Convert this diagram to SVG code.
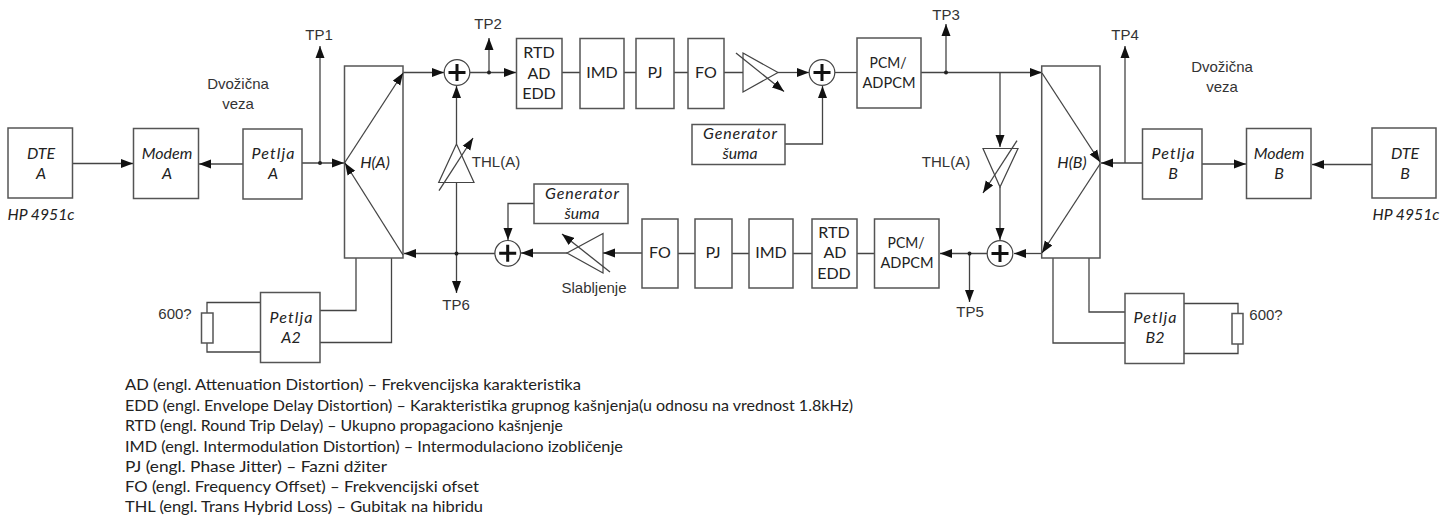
<svg xmlns="http://www.w3.org/2000/svg" width="1454" height="517" viewBox="0 0 1454 517">
<style>
text{font-family:"Liberation Sans",Arial,sans-serif;fill:#333;font-size:15px;text-anchor:middle}
.h{font-family:"Lato","Noto Sans",sans-serif;font-style:italic;font-size:16px;fill:#222}
.u{font-family:"Lato","Noto Sans",sans-serif;font-size:16px;fill:#222}
.l{font-family:"Lato","Noto Sans",sans-serif;font-size:16px;fill:#222;text-anchor:start}
.b{fill:#fff;stroke:#555;stroke-width:1.5}
.c{fill:none;stroke:#444;stroke-width:1.3}
.a{marker-end:url(#arr)}
.d{fill:#222;stroke:none}
.s{fill:#fff;stroke:#444;stroke-width:1.2}
.p{fill:none;stroke:#111;stroke-width:3}
.t{fill:none;stroke:#444;stroke-width:1.2}
</style>
<defs>
<marker id="arr" markerUnits="userSpaceOnUse" markerWidth="13" markerHeight="10" refX="12" refY="5" orient="auto"><path d="M0,0.5L12,5L0,9.5z" fill="#111"/></marker>
<g id="sum"><circle r="12.8" class="s"/><path d="M-8.5,0H8.5M0,-8.5V8.5" class="p"/></g>
</defs>
<rect width="1454" height="517" fill="#fff"/>
<g id="connectors">
<path class="c a" d="M72.5,163.5H133"/>
<path class="c a" d="M243,164H199"/>
<path class="c a" d="M302,163H344"/>
<path class="c a" d="M320,163V46"/>
<path class="c a" d="M403,72.5H444"/>
<path class="c a" d="M470,72.5H516"/>
<path class="c a" d="M489,72.5V38"/>
<path class="c a" d="M456.5,144V86"/>
<path class="c" d="M456.5,182V253.5"/>
<path class="c a" d="M495,253.5H404"/>
<path class="c a" d="M456.5,253.5V293"/>
<path class="c" d="M562,72.5H580M624,72.5H636M674,72.5H688M724,72.5H743"/>
<path class="c a" d="M778,72.5H809"/>
<path class="c" d="M835,72.5H857"/>
<path class="c a" d="M785,144H822.5V86"/>
<path class="c a" d="M921,72.5H1042"/>
<path class="c a" d="M946,72.5V24"/>
<path class="c a" d="M1000,72.5V147"/>
<path class="c a" d="M1000,187V240"/>
<path class="c a" d="M1042,253.5H1014"/>
<path class="c a" d="M987,253.5H940"/>
<path class="c a" d="M969.5,253.5V302"/>
<path class="c" d="M874,253.5H857M812,253.5H793M749,253.5H732M695,253.5H678"/>
<path class="c a" d="M642,253H603"/>
<path class="c a" d="M567,253H521"/>
<path class="c a" d="M534,203.5H508V240"/>
<path class="c a" d="M1142,163H1101"/>
<path class="c a" d="M1125,163V46"/>
<path class="c a" d="M1202,164H1246"/>
<path class="c a" d="M1372,164.5H1312"/>
<path class="c" d="M320,310.5H356V258M320,342.5H391.5V258M260,302.5H207V313M207,343V352H260"/>
<path class="c" d="M1125,312H1089V258M1125,343H1053V258M1184,303.5H1238V313.5M1238,344V353.5H1184"/>
<circle class="d" cx="320" cy="163" r="2"/><circle class="d" cx="489" cy="72.5" r="2"/><circle class="d" cx="456.5" cy="253.5" r="2"/><circle class="d" cx="946" cy="72.5" r="2"/><circle class="d" cx="969.5" cy="253.5" r="2"/>
</g>
<g id="dte-a"><rect class="b" x="8" y="128" width="64.5" height="70"/><text class="h" x="41" y="159">DTE</text><text class="h" x="41" y="179">A</text><text class="h" x="41" y="220" textLength="67" lengthAdjust="spacingAndGlyphs">HP 4951c</text></g>
<g id="modem-a"><rect class="b" x="133.5" y="128.5" width="65" height="70"/><text class="h" x="167" y="159">Modem</text><text class="h" x="167" y="179">A</text></g>
<g id="petlja-a"><rect class="b" x="243" y="129" width="59" height="70"/><text class="h" x="273" y="159" textLength="43">Petlja</text><text class="h" x="273" y="179">A</text></g>
<g id="dvozicna-a"><text x="238" y="89">Dvožična</text><text x="238" y="109">veza</text></g>
<g id="tp1"><text x="319" y="40">TP1</text></g>
<g id="tp2"><text x="488" y="29">TP2</text></g>
<g id="tp3"><text x="946" y="20">TP3</text></g>
<g id="tp4"><text x="1125" y="40">TP4</text></g>
<g id="tp5"><text x="970" y="317">TP5</text></g>
<g id="tp6"><text x="456" y="310">TP6</text></g>
<g id="hybrid-a"><rect class="b" x="344.500" y="66" width="58.500" height="192"/><path class="c a" d="M344.500,163L403,73"/><path class="c a" d="M403,255L345,163"/><text class="h" x="375" y="168">H(A)</text></g>
<g id="sum1"><use href="#sum" x="457" y="72.500"/></g>
<g id="thl-a1"><path class="t" d="M456.500,144L474,182.500H438.700z"/><path class="c a" d="M439,190.700L473,138"/><text x="496" y="167">THL(A)</text></g>
<g id="rtd-1"><rect class="b" x="516.500" y="38.500" width="45.500" height="70"/><text class="u" x="539" y="58">RTD</text><text class="u" x="539" y="79">AD</text><text class="u" x="539" y="99">EDD</text></g>
<g id="imd-1"><rect class="b" x="580" y="38.500" width="44" height="70"/><text class="u" x="602" y="78">IMD</text></g>
<g id="pj-1"><rect class="b" x="636" y="38.500" width="38" height="70"/><text class="u" x="655" y="78">PJ</text></g>
<g id="fo-1"><rect class="b" x="688" y="38.500" width="36" height="70"/><text class="u" x="706" y="78">FO</text></g>
<g id="amp-1"><path class="t" d="M743,53V92L778,72.500z"/><path class="c a" d="M736,53L784,91.500"/></g>
<g id="sum3"><use href="#sum" x="822" y="72.500"/></g>
<g id="pcm-1"><rect class="b" x="857" y="38" width="64" height="70"/><text class="u" x="888" y="68" textLength="37" lengthAdjust="spacingAndGlyphs">PCM/</text><text class="u" x="889" y="88" textLength="53" lengthAdjust="spacingAndGlyphs">ADPCM</text></g>
<g id="gen-1"><rect class="b" x="692" y="124.500" width="93" height="40"/><text class="h" x="740" y="139" textLength="74">Generator</text><text class="h" x="740" y="159" textLength="35" lengthAdjust="spacingAndGlyphs">šuma</text></g>
<g id="thl-a2"><path class="t" d="M983,148.500H1018L1000,187z"/><path class="c a" d="M1017,140.700L983,193"/><text x="946" y="167">THL(A)</text></g>
<g id="sum4"><use href="#sum" x="1000" y="253.500"/></g>
<g id="hybrid-b"><rect class="b" x="1041.700" y="66" width="58.300" height="192"/><path class="c a" d="M1042,73L1100,162"/><path class="c a" d="M1100,164L1042,253"/><text class="h" x="1072" y="168">H(B)</text></g>
<g id="petlja-b"><rect class="b" x="1142.500" y="129" width="59.500" height="70"/><text class="h" x="1173" y="159" textLength="43">Petlja</text><text class="h" x="1173" y="179">B</text></g>
<g id="modem-b"><rect class="b" x="1246.500" y="128.500" width="64.500" height="70"/><text class="h" x="1279" y="159">Modem</text><text class="h" x="1279" y="179">B</text></g>
<g id="dte-b"><rect class="b" x="1372" y="128" width="64" height="70"/><text class="h" x="1405" y="159">DTE</text><text class="h" x="1405" y="179">B</text><text class="h" x="1406" y="220" textLength="67" lengthAdjust="spacingAndGlyphs">HP 4951c</text></g>
<g id="dvozicna-b"><text x="1222" y="72">Dvožična</text><text x="1222" y="92">veza</text></g>
<g id="pcm-2"><rect class="b" x="874.500" y="219" width="64.500" height="69"/><text class="u" x="906" y="248" textLength="37" lengthAdjust="spacingAndGlyphs">PCM/</text><text class="u" x="907" y="268" textLength="53" lengthAdjust="spacingAndGlyphs">ADPCM</text></g>
<g id="rtd-2"><rect class="b" x="812" y="219" width="45" height="69"/><text class="u" x="834" y="238">RTD</text><text class="u" x="835" y="258">AD</text><text class="u" x="834" y="279">EDD</text></g>
<g id="imd-2"><rect class="b" x="749" y="219" width="44" height="69"/><text class="u" x="771" y="258">IMD</text></g>
<g id="pj-2"><rect class="b" x="695" y="219" width="37" height="69"/><text class="u" x="713" y="258">PJ</text></g>
<g id="fo-2"><rect class="b" x="642" y="219" width="36" height="69"/><text class="u" x="660" y="258">FO</text></g>
<g id="amp-2"><path class="t" d="M603,233.500V273L567,253z"/><path class="c a" d="M610,272L562,234"/><text x="594" y="293">Slabljenje</text></g>
<g id="gen-2"><rect class="b" x="534" y="184" width="94" height="39.500"/><text class="h" x="582" y="199" textLength="74">Generator</text><text class="h" x="582" y="219" textLength="35" lengthAdjust="spacingAndGlyphs">šuma</text></g>
<g id="sum2"><use href="#sum" x="507.700" y="253.300"/></g>
<g id="petlja-a2"><rect class="b" x="260.500" y="292.500" width="59.500" height="70"/><text class="h" x="291" y="323" textLength="43">Petlja</text><text class="h" x="291" y="343">A2</text></g>
<g id="res-a"><rect class="b" x="201.500" y="313" width="11.500" height="30"/><text x="175" y="319">600?</text></g>
<g id="petlja-b2"><rect class="b" x="1125" y="293.500" width="59" height="70"/><text class="h" x="1155" y="323" textLength="43">Petlja</text><text class="h" x="1155" y="343">B2</text></g>
<g id="res-b"><rect class="b" x="1232" y="313.500" width="11" height="30.500"/><text x="1266" y="320">600?</text></g>
<g id="legend">
<text class="l" x="125" y="390" textLength="456" lengthAdjust="spacingAndGlyphs">AD (engl. Attenuation Distortion) – Frekvencijska karakteristika</text>
<text class="l" x="125" y="411" textLength="728" lengthAdjust="spacingAndGlyphs">EDD (engl. Envelope Delay Distortion) – Karakteristika grupnog kašnjenja(u odnosu na vrednost 1.8kHz)</text>
<text class="l" x="125" y="431" textLength="438" lengthAdjust="spacingAndGlyphs">RTD (engl. Round Trip Delay) – Ukupno propagaciono kašnjenje</text>
<text class="l" x="125" y="452" textLength="498" lengthAdjust="spacingAndGlyphs">IMD (engl. Intermodulation Distortion) – Intermodulaciono izobličenje</text>
<text class="l" x="125" y="472" textLength="262" lengthAdjust="spacingAndGlyphs">PJ (engl. Phase Jitter) – Fazni džiter</text>
<text class="l" x="125" y="492" textLength="354" lengthAdjust="spacingAndGlyphs">FO (engl. Frequency Offset) – Frekvencijski ofset</text>
<text class="l" x="125" y="512" textLength="358" lengthAdjust="spacingAndGlyphs">THL (engl. Trans Hybrid Loss) – Gubitak na hibridu</text>
</g>
</svg>
